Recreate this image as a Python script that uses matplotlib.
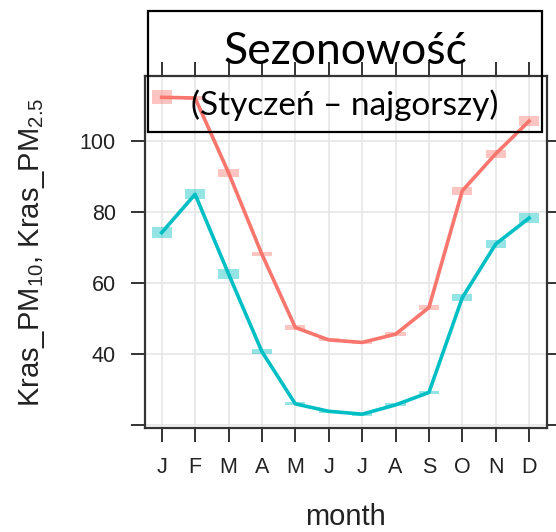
import matplotlib
matplotlib.use("Agg")
import matplotlib.pyplot as plt
from matplotlib.patches import Rectangle

plt.rcParams['font.family'] = ['Liberation Sans', 'DejaVu Sans']
plt.rcParams['mathtext.default'] = 'regular'

months = ['J', 'F', 'M', 'A', 'M', 'J', 'J', 'A', 'S', 'O', 'N', 'D']
pm10 = [112.2, 112.0, 91.0, 68.0, 47.4, 43.9, 43.2, 45.5, 53.0, 85.9, 96.3, 105.5]
pm10_ci = [2.0, 0.6, 1.1, 0.6, 0.6, 0.4, 0.4, 0.6, 0.8, 1.1, 1.2, 1.5]
pm25 = [74.1, 84.9, 62.5, 40.6, 25.9, 23.8, 23.0, 25.6, 29.1, 55.8, 70.9, 78.2]
pm25_ci = [1.5, 1.4, 1.5, 0.75, 0.4, 0.4, 0.4, 0.4, 0.4, 1.0, 1.1, 1.5]
yticks = [20, 40, 60, 80, 100]
ytick_labels = ['', '40', '60', '80', '100']

title = 'Sezonowość'
subtitle = '(Styczeń – najgorszy)'

red = '#F8766D'
cyan = '#00BFC4'

fig = plt.figure(figsize=(5.56, 5.32), dpi=100)
ax = fig.add_axes([145 / 556, 1 - 428 / 532, 401.5 / 556, 352 / 532])

x = list(range(1, 13))

for vals, ci, col in [(pm10, pm10_ci, red), (pm25, pm25_ci, cyan)]:
    lo = [v - c for v, c in zip(vals, ci)]
    h = [2 * c for c in ci]
    ax.bar(x, h, bottom=lo, width=0.6, color=col, alpha=0.42, linewidth=0, zorder=2)
    ax.plot(x, vals, color=col, lw=2.6, zorder=3)

ax.set_xlim(0.5, 12.52)
ax.set_ylim(19.1, 118.2)
ax.set_xticks(x)
ax.set_xticklabels(months, fontsize=15.5)
ax.set_yticks(yticks)
ax.set_yticklabels(ytick_labels, fontsize=15.5)
ax.tick_params(direction='out', length=10, width=1.4, color='#333333', pad=11,
               top=True, right=True, labelcolor='#222222')
ax.grid(True, color='#e4e4e4', lw=1.1, zorder=0)
ax.set_axisbelow(True)
for s in ax.spines.values():
    s.set_linewidth(1.6)
    s.set_color('#333333')

ax.set_xlabel('month', fontsize=21, labelpad=18, color='#222222')
ax.set_ylabel('Kras_PM$_{10}$, Kras_PM$_{2.5}$', fontsize=21, color='#222222')
ax.yaxis.set_label_coords(-0.245, 0.5)

# annotation box over the top of the chart
fig.patches.append(Rectangle((148 / 556, 1 - 132 / 532), 394 / 556, 121 / 532,
                             transform=fig.transFigure, fill=False,
                             edgecolor='black', lw=1.6, zorder=10))
fig.text(345 / 556, 1 - 51 / 532, title, fontsize=32, family=['Lato', 'DejaVu Sans'],
         ha='center', va='center', color='black')
fig.text(345 / 556, 1 - 105 / 532, subtitle, fontsize=24, family=['Lato', 'DejaVu Sans'],
         ha='center', va='center', color='black')

fig.savefig('out.png', dpi=100)
